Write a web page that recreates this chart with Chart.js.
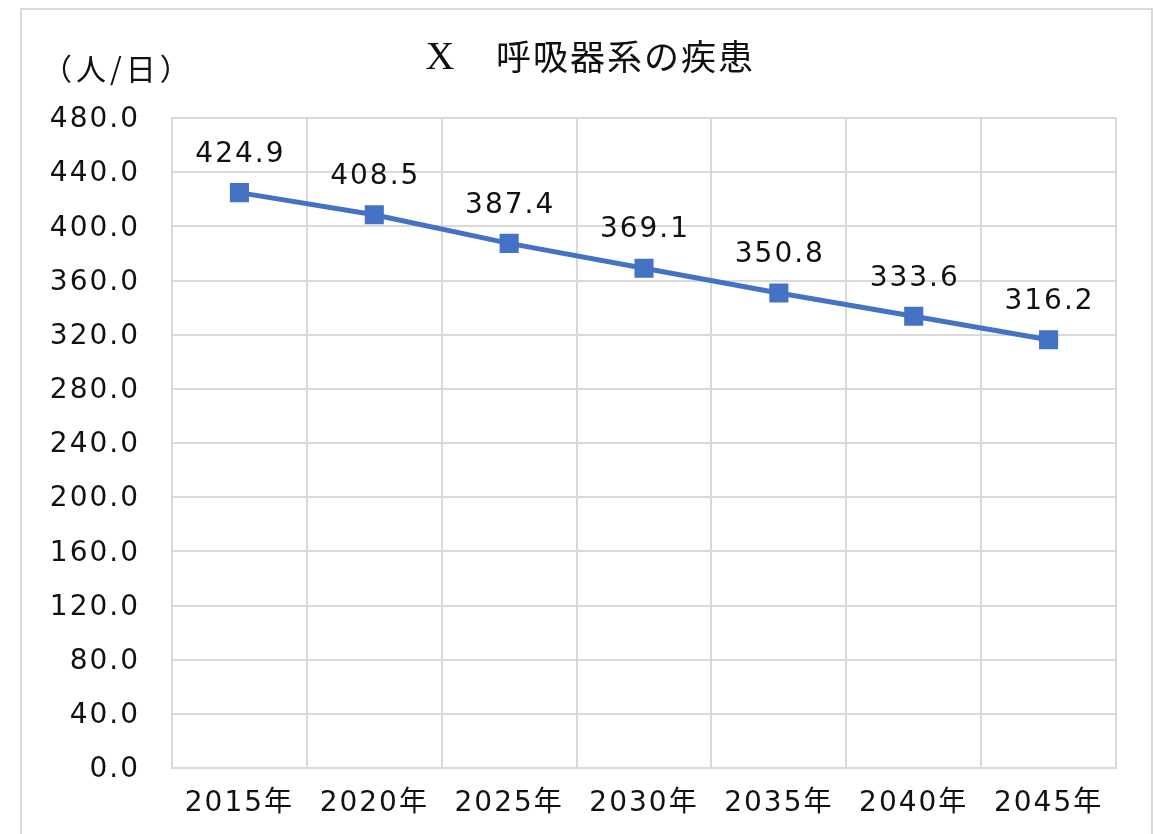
<!DOCTYPE html>
<html>
<head>
<meta charset="utf-8">
<script src="https://cdn.jsdelivr.net/npm/chart.js@4.4.1/dist/chart.umd.min.js"></script>
<style>
  html, body { margin: 0; padding: 0; background: #fff; }
</style>
</head>
<body>
<canvas id="chart" width="1153" height="834"></canvas>
<script>
// chart data
const years = ['2015年', '2020年', '2025年', '2030年', '2035年', '2040年', '2045年'];
const patientsPerDay = [424.9, 408.5, 387.4, 369.1, 350.8, 333.6, 316.2];
const yMin = 0;
const yMax = 480;
const yStep = 40;
const titleMark = 'X';
const titleText = '呼吸器系の疾患';
const unitLabel = '（人/日）';

const CJK = '"Noto Sans CJK JP"';
const NUM_FONT = '"DejaVu Sans", ' + CJK + ', sans-serif';
const LINE_COLOR = '#4472C4';
const GRID_COLOR = '#d9d9d9';
const TEXT_COLOR = '#111';
const SPACING = '2px';
const NUM_SIZE = 28;

// the original digits are wide, so add a bit of spacing on the canvas
const spacingPlugin = {
    id: 'spacing',
    beforeUpdate(chart) { chart.ctx.letterSpacing = SPACING; },
    beforeDraw(chart) { chart.ctx.letterSpacing = SPACING; }
};

// outer frame, title, unit and the value labels
const decorPlugin = {
    id: 'decor',
    beforeDraw(chart) {
        const ctx = chart.ctx;
        ctx.save();
        ctx.fillStyle = '#fff';
        ctx.fillRect(0, 0, chart.width, chart.height);
        ctx.strokeStyle = GRID_COLOR;
        ctx.lineWidth = 2;
        ctx.strokeRect(21, 9, 1131, 840);
        ctx.restore();
    },
    afterDatasetsDraw(chart) {
        const ctx = chart.ctx;
        ctx.save();
        ctx.fillStyle = TEXT_COLOR;
        ctx.textBaseline = 'middle';

        // title
        ctx.letterSpacing = '0px';
        ctx.textAlign = 'center';
        ctx.font = '40px "Liberation Serif", serif';
        ctx.fillText(titleMark, 440, 58);
        ctx.textAlign = 'left';
        ctx.letterSpacing = '2px';
        ctx.font = '35px ' + CJK;
        ctx.fillText(titleText, 496, 57);

        // unit
        ctx.textAlign = 'left';
        ctx.letterSpacing = '4px';
        ctx.font = '30px ' + CJK;
        ctx.fillText(unitLabel, 42, 69);

        // value labels
        ctx.textAlign = 'center';
        ctx.letterSpacing = SPACING;
        ctx.font = NUM_SIZE + 'px ' + NUM_FONT;
        const meta = chart.getDatasetMeta(0);
        meta.data.forEach((pt, i) => {
            ctx.fillText(patientsPerDay[i].toFixed(1), pt.x + 1, pt.y - 38);
        });
        ctx.restore();
    }
};

const ctx = document.getElementById('chart').getContext('2d');
const chart = new Chart(ctx, {
    type: 'line',
    data: {
        labels: years,
        datasets: [{
            label: titleText,
            data: patientsPerDay,
            borderColor: LINE_COLOR,
            backgroundColor: LINE_COLOR,
            borderWidth: 5,
            pointStyle: 'rect',
            pointRadius: 13.5,
            pointHoverRadius: 13.5,
            pointBorderWidth: 0,
            tension: 0
        }]
    },
    options: {
        responsive: false,
        animation: false,
        layout: {
            padding: { top: 118, right: 37, bottom: 0, left: 0 }
        },
        plugins: {
            legend: { display: false },
            title: { display: false },
            tooltip: { enabled: false }
        },
        scales: {
            x: {
                offset: true,
                grid: { offset: true, color: GRID_COLOR, lineWidth: 2, drawTicks: false },
                border: { color: GRID_COLOR, width: 2 },
                ticks: { color: TEXT_COLOR, font: { family: NUM_FONT, size: NUM_SIZE }, padding: 19, maxRotation: 0 },
                afterFit(scale) { scale.height = 66; }
            },
            y: {
                min: yMin,
                max: yMax,
                grid: { color: GRID_COLOR, lineWidth: 2, drawTicks: false },
                border: { color: GRID_COLOR, width: 2 },
                ticks: {
                    stepSize: yStep,
                    color: TEXT_COLOR,
                    font: { family: NUM_FONT, size: NUM_SIZE },
                    padding: 32,
                    labelOffset: 2,
                    callback: v => v.toFixed(1)
                },
                afterFit(scale) { scale.width = 172; }
            }
        }
    },
    plugins: [spacingPlugin, decorPlugin]
});
</script>
</body>
</html>
